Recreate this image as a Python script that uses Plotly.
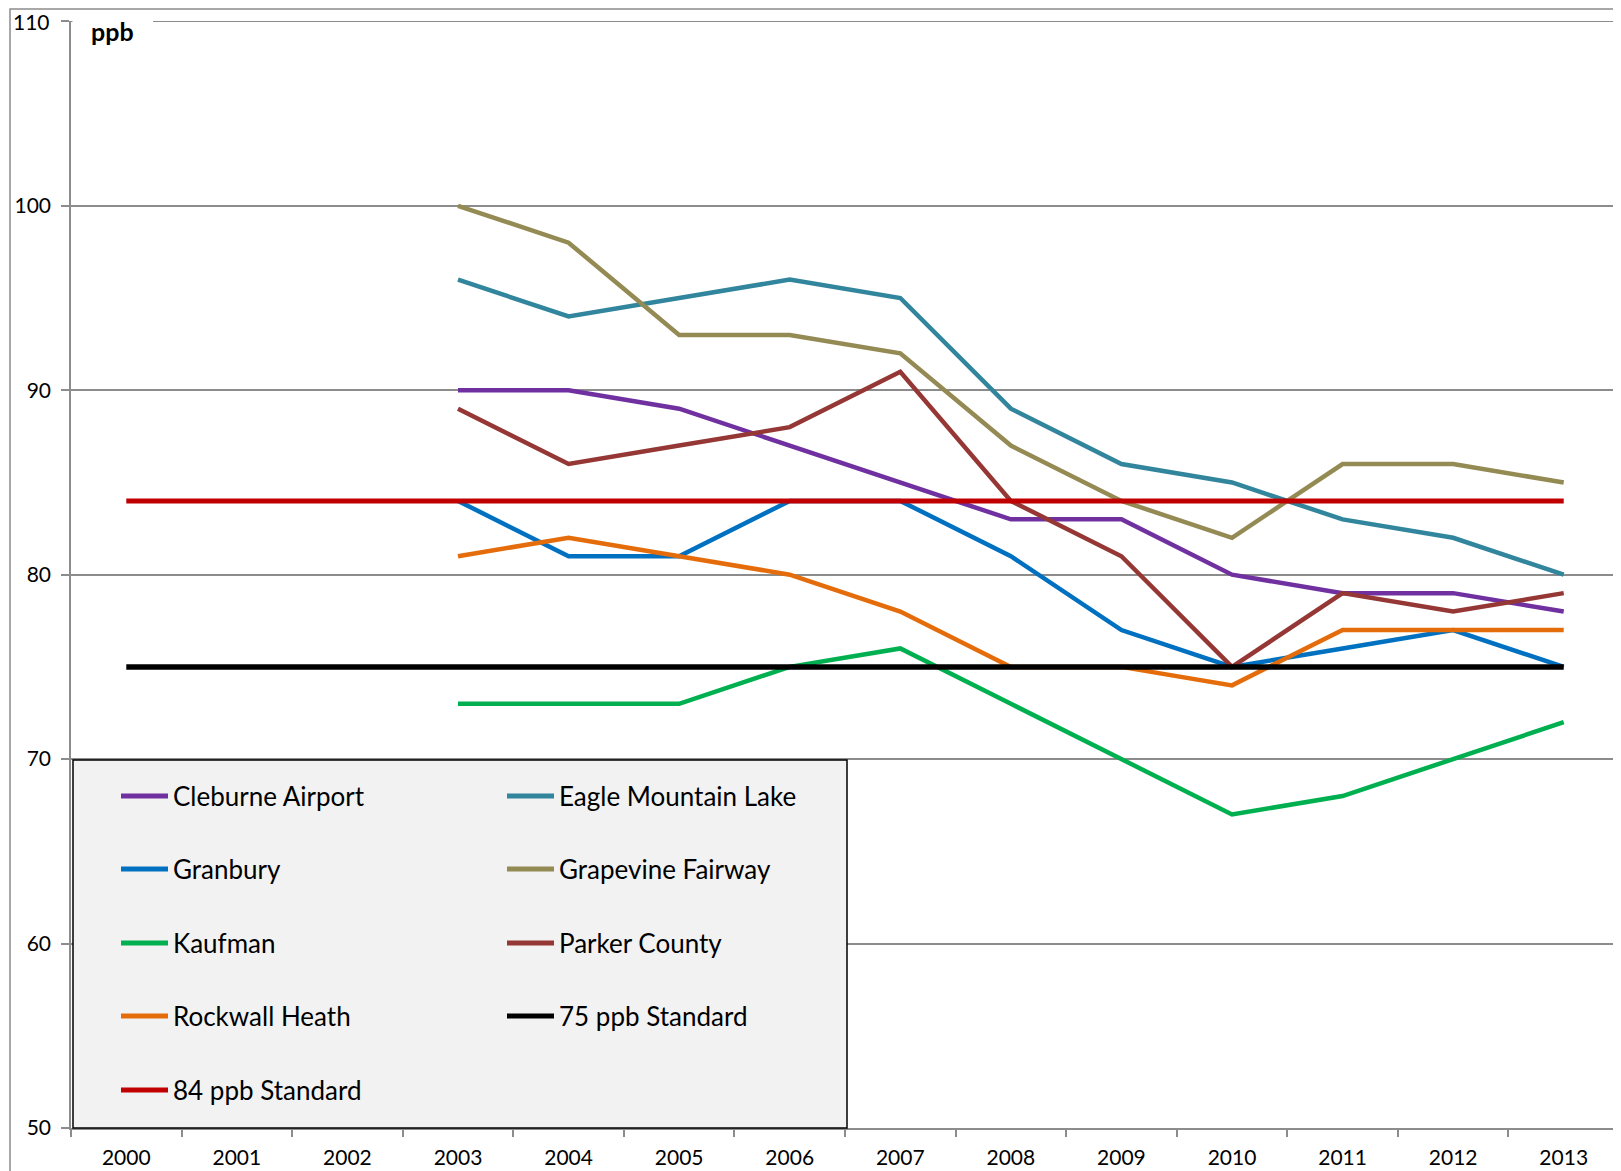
import plotly.graph_objects as go

# ---------------- data ----------------
YEARS = ["2000", "2001", "2002", "2003", "2004", "2005", "2006",
         "2007", "2008", "2009", "2010", "2011", "2012", "2013"]
SITE_YEARS = ["2003", "2004", "2005", "2006", "2007", "2008",
              "2009", "2010", "2011", "2012", "2013"]

cleburne_airport = [90, 90, 89, 87, 85, 83, 83, 80, 79, 79, 78]
eagle_mountain_lake = [96, 94, 95, 96, 95, 89, 86, 85, 83, 82, 80]
granbury = [84, 81, 81, 84, 84, 81, 77, 75, 76, 77, 75]
grapevine_fairway = [100, 98, 93, 93, 92, 87, 84, 82, 86, 86, 85]
kaufman = [73, 73, 73, 75, 76, 73, 70, 67, 68, 70, 72]
parker_county = [89, 86, 87, 88, 91, 84, 81, 75, 79, 78, 79]
rockwall_heath = [81, 82, 81, 80, 78, 75, 75, 74, 77, 77, 77]
std_75 = [75, 75, 75, 75, 75, 75, 75, 75, 75, 75, 75, 75, 75, 75]
std_84 = [84, 84, 84, 84, 84, 84, 84, 84, 84, 84, 84, 84, 84, 84]

Y_TICKS = [50, 60, 70, 80, 90, 100, 110]
Y_MIN, Y_MAX = 50, 110

series = [
    ("Cleburne Airport", SITE_YEARS, cleburne_airport, "#7030a0", 4.5),
    ("Eagle Mountain Lake", SITE_YEARS, eagle_mountain_lake, "#31859c", 4.5),
    ("Granbury", SITE_YEARS, granbury, "#0070c0", 4.5),
    ("Grapevine Fairway", SITE_YEARS, grapevine_fairway, "#948a54", 4.5),
    ("Kaufman", SITE_YEARS, kaufman, "#00b050", 4.5),
    ("Parker County", SITE_YEARS, parker_county, "#953735", 4.5),
    ("Rockwall Heath", SITE_YEARS, rockwall_heath, "#e46c0a", 4.5),
    ("75 ppb Standard", YEARS, std_75, "#000000", 5.5),
    ("84 ppb Standard", YEARS, std_84, "#c00000", 5),
]

# ---------------- layout geometry (page pixel coords, body margin 8px) ----------------
OFF = 8
W, H = 1621 - OFF, 1171 - OFF
PLOT_L, PLOT_R, PLOT_T, PLOT_B = 71, 1619, 21, 1128
ML, MT = PLOT_L - OFF, PLOT_T - OFF
MR, MB = W - (PLOT_R - OFF), H - (PLOT_B - OFF)
PW, PH = PLOT_R - PLOT_L, PLOT_B - PLOT_T
FONT = "Lato, 'Open Sans', sans-serif"
GRID = "#8c8c8c"


def px(x):
    return (x - PLOT_L) / PW


def py(y):
    return (PLOT_B - y) / PH


fig = go.Figure()
for name, xs, ys, color, width in series:
    fig.add_trace(go.Scatter(
        x=xs, y=ys, name=name, mode="lines",
        line=dict(color=color, width=width),
        showlegend=False,
    ))

shapes = []
annotations = []

# outer chart border
shapes.append(dict(type="rect", xref="paper", yref="paper",
                   x0=px(10), x1=px(1619.5), y0=py(1200), y1=py(9),
                   line=dict(color=GRID, width=1.5), layer="below"))

# top gridline (range end) drawn explicitly in axis coordinates
shapes.append(dict(type="line", xref="paper", yref="y",
                   x0=0, x1=1, y0=Y_MAX, y1=Y_MAX,
                   line=dict(color=GRID, width=1.5), layer="below"))

# top tick label (plotly hides it so close to the page edge)
tick_text = [str(v) if v != Y_MAX else "" for v in Y_TICKS]
annotations.append(dict(xref="paper", yref="y", x=px(52), y=Y_MAX,
                        text=str(Y_MAX), showarrow=False,
                        xanchor="right", yanchor="middle",
                        font=dict(family=FONT, size=21, color="black")))

# white box behind "ppb" label covering the top gridline
shapes.append(dict(type="rect", xref="paper", yref="paper",
                   x0=px(72.5), x1=px(153), y0=py(45), y1=py(14),
                   fillcolor="white", line=dict(width=0), layer="above"))
annotations.append(dict(xref="paper", yref="paper", x=px(112), y=py(31),
                        text="<b>ppb</b>", showarrow=False,
                        font=dict(family=FONT, size=25, color="black"),
                        xanchor="center", yanchor="middle"))

# manual legend
LX0, LX1, LY0, LY1 = 73, 847, 760, 1128
shapes.append(dict(type="rect", xref="paper", yref="paper",
                   x0=px(LX0), x1=px(LX1), y0=py(LY1), y1=py(LY0),
                   fillcolor="#f2f2f2", line=dict(color="black", width=1.5),
                   layer="above"))
col_line_x = [121, 507]
col_text_x = [171, 557]
row_y = [796, 869, 943, 1016, 1090]
for i, (name, xs, ys, color, width) in enumerate(series):
    r, c = divmod(i, 2)
    yy = row_y[r]
    shapes.append(dict(type="line", xref="paper", yref="paper",
                       x0=px(col_line_x[c]), x1=px(col_line_x[c] + 47),
                       y0=py(yy), y1=py(yy),
                       line=dict(color=color, width=5), layer="above"))
    annotations.append(dict(xref="paper", yref="paper",
                            x=px(col_text_x[c]), y=py(yy), text=name,
                            showarrow=False, xanchor="left", yanchor="middle",
                            font=dict(family=FONT, size=26, color="black")))

fig.update_layout(
    width=W, height=H,
    margin=dict(l=ML, r=MR, t=MT, b=MB, pad=0),
    paper_bgcolor="white", plot_bgcolor="white",
    font=dict(family=FONT, size=21, color="black"),
    showlegend=False,
    shapes=shapes, annotations=annotations,
)
fig.update_xaxes(
    type="category", categoryorder="array", categoryarray=YEARS,
    range=[-0.5, 13.5], tickson="boundaries",
    ticks="outside", ticklen=7, tickwidth=1.5, tickcolor=GRID,
    showline=True, linecolor=GRID, linewidth=1.5,
    showgrid=False, zeroline=False, ticklabelstandoff=10,
    tickfont=dict(family=FONT, size=21, color="black"),
)
fig.update_yaxes(
    range=[Y_MIN, Y_MAX + 0.02], tickvals=Y_TICKS, ticktext=tick_text,
    ticks="outside", ticklen=8, tickwidth=1.5, tickcolor=GRID,
    showline=True, linecolor=GRID, linewidth=1.5,
    showgrid=True, gridcolor=GRID, gridwidth=1.5, zeroline=False,
    ticklabelstandoff=6,
    tickfont=dict(family=FONT, size=21, color="black"),
)

fig.write_html("out.html")
